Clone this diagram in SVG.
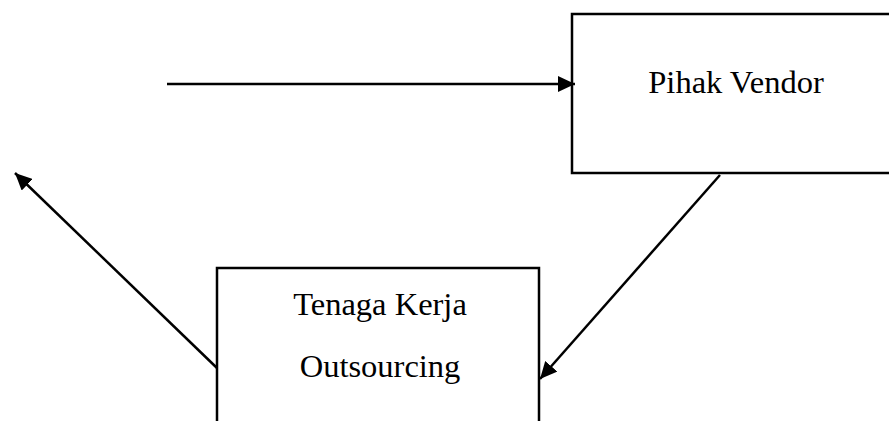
<svg xmlns="http://www.w3.org/2000/svg" width="889" height="421" viewBox="0 0 889 421">
<style>
.box{fill:#fff;stroke:#000;stroke-width:2.5}
.lbl{font-family:"Liberation Serif","Times New Roman",serif;font-size:32.5px;fill:#000;text-anchor:middle}
.con{stroke:#000;stroke-width:2.5;fill:none;marker-end:url(#ah)}
</style>
<defs>
<marker id="ah" markerUnits="userSpaceOnUse" markerWidth="18" markerHeight="16" refX="17" refY="8" orient="auto">
<path d="M0,0 L17,8 L0,16 z" fill="#000"/>
</marker>
</defs>
<rect width="889" height="421" fill="#fff"/>
<g id="vendor">
<rect class="box" x="572" y="14" width="320" height="159"/>
<text class="lbl" x="736" y="93">Pihak Vendor</text>
</g>
<g id="tenaga">
<rect class="box" x="217" y="268" width="322" height="170"/>
<text class="lbl" x="380" y="315">Tenaga Kerja</text>
<text class="lbl" x="380" y="377">Outsourcing</text>
</g>
<g id="connectors">
<line class="con" x1="167" y1="84" x2="575" y2="84"/>
<line class="con" x1="720" y1="175" x2="540" y2="379"/>
<line class="con" x1="217" y1="368" x2="15" y2="173"/>
</g>
</svg>
